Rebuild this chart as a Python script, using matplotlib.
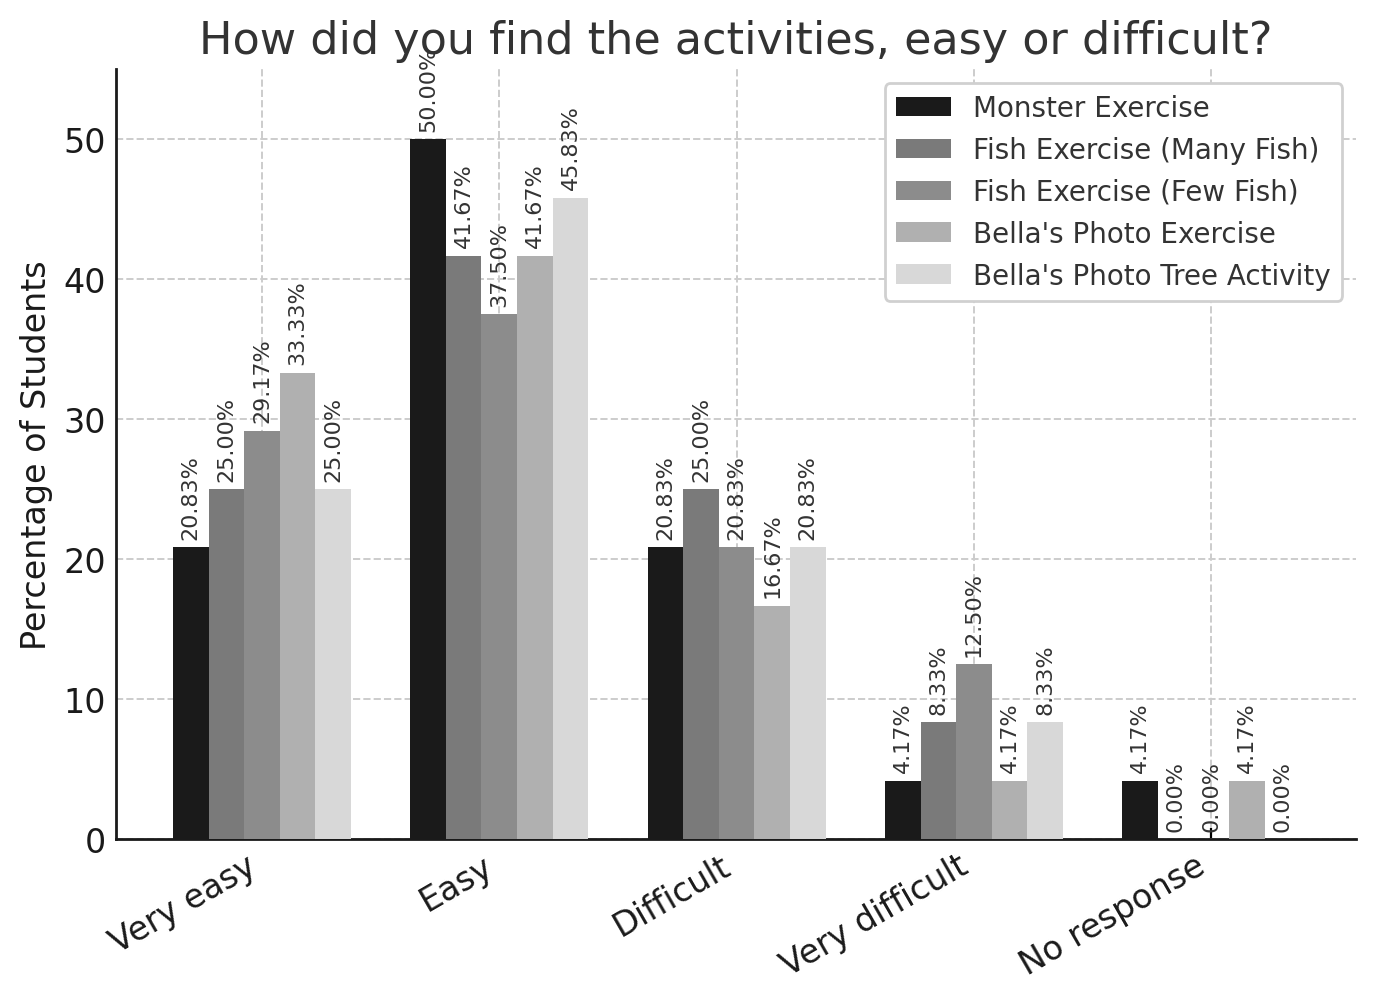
import matplotlib
matplotlib.use("Agg")
import matplotlib.pyplot as plt
import numpy as np

categories = ["Very easy", "Easy", "Difficult", "Very difficult", "No response"]
series_names = ["Monster Exercise", "Fish Exercise (Many Fish)", "Fish Exercise (Few Fish)",
                "Bella's Photo Exercise", "Bella's Photo Tree Activity"]
monster = [20.83, 50.00, 20.83, 4.17, 4.17]
many_fish = [25.00, 41.67, 25.00, 8.33, 0.00]
few_fish = [29.17, 37.50, 20.83, 12.50, 0.00]
bella_photo = [33.33, 41.67, 16.67, 4.17, 4.17]
bella_tree = [25.00, 45.83, 20.83, 8.33, 0.00]
colors = ["#1a1a1a", "#7a7a7a", "#8c8c8c", "#b0b0b0", "#d8d8d8"]

all_series = [monster, many_fish, few_fish, bella_photo, bella_tree]
txt = "#333333"

fig = plt.figure(figsize=(6.88, 5.015), dpi=200)
ax = fig.add_axes([0.0843, 0.1625, 0.9012, 0.7675])

x = np.arange(len(categories))
w = 0.15
for i, (vals, name) in enumerate(zip(all_series, series_names)):
    pos = x + (i - 2) * w
    bars = ax.bar(pos, vals, w, color=colors[i], label=name, zorder=3)
    for b, v in zip(bars, vals):
        ax.annotate(f"{v:.2f}%", (b.get_x() + b.get_width() / 2, v),
                    xytext=(0, 3), textcoords="offset points",
                    ha="center", va="bottom", rotation=90, fontsize=8, color=txt)

ax.set_xlim(-0.615, 4.61)
ax.set_ylim(0, 55)
ax.set_xticks(x)
ax.set_xticklabels(categories, rotation=30, ha="right", fontsize=12, color="#1a1a1a")
ax.tick_params(axis="y", labelsize=12, labelcolor="#1a1a1a", direction="in", length=0)
ax.tick_params(axis="x", direction="in", length=4)
ax.set_ylabel("Percentage of Students", fontsize=12, color="#1a1a1a")
ax.set_title("How did you find the activities, easy or difficult?", fontsize=16, color=txt)
ax.grid(True, linestyle="--", color="#cccccc", linewidth=0.7, zorder=0)
for s in ["top", "right"]:
    ax.spines[s].set_visible(False)
for s in ["left", "bottom"]:
    ax.spines[s].set_color("#1a1a1a")
    ax.spines[s].set_linewidth(1.0)

leg = ax.legend(loc="upper right", fontsize=10, fancybox=True, framealpha=1,
                edgecolor="#d0d0d0", labelcolor=txt)

fig.savefig("out.png", dpi=200)
